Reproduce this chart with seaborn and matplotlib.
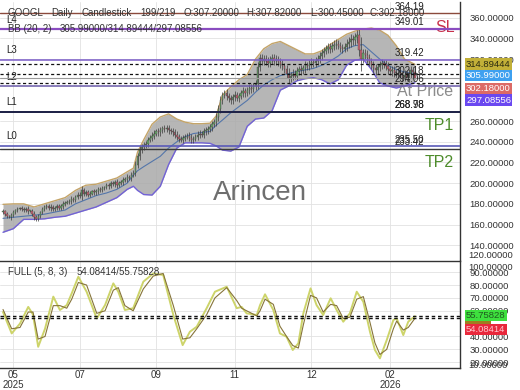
import numpy as np
import pandas as pd
import matplotlib
matplotlib.use("Agg")
import matplotlib.pyplot as plt
import matplotlib.transforms as mtransforms
import seaborn as sns

# ---------------- data ----------------
closes = [
    173, 170, 168, 167, 169, 172, 174, 175, 176, 175,
    174, 175, 173, 173, 170, 167, 165, 168, 172, 175,
    177, 178, 176, 177, 175, 176, 178, 176, 178, 180,
    181, 182, 183, 185, 184, 187, 189, 188, 193, 190,
    191, 189, 190, 192, 191, 192, 194, 193, 195, 196,
    198, 197, 200, 199, 201, 198, 200, 201, 203, 204,
    206, 205, 208, 210, 218, 226, 232, 235, 237, 238,
    242, 244, 246, 248, 250, 249, 251, 253, 252, 253,
    251, 250, 249, 247, 245, 243, 242, 244, 245, 246,
    244, 242, 243, 245, 247, 248, 247, 250, 251, 252,
    254, 257, 259, 264, 272, 280, 285, 287, 284, 282,
    280, 283, 285, 282, 284, 287, 289, 287, 290, 292,
    291, 294, 296, 312, 321, 318, 320, 318, 316, 319,
    321, 318, 319.6, 317, 315, 313, 310, 306, 302, 303.6,
    306, 304, 308, 310, 309, 311, 314, 313, 315, 317,
    316, 318, 320, 323, 326, 328, 330, 332, 330, 333,
    334, 335, 333, 331, 330, 332, 335, 337, 339, 338,
    341, 343, 329, 320, 326, 324, 321, 317, 314, 311,
    309, 312, 314, 316, 315, 313, 310, 308, 309, 307,
    305.5, 307, 304, 303, 305, 302, 306, 309, 307.2, 302.18,
]
first_open = 172
wicks = [
    2, 1.5, 2, 1, 2.5, 2, 1.5, 2, 1, 2, 1.5, 2, 2.5, 1, 2, 3, 2, 2, 1.5, 2,
    2, 1.5, 2, 2.5, 1.5, 2, 2, 1.5, 2, 2.5, 2, 1.5, 2, 3, 2, 2, 2.5, 2, 4, 2,
    2, 2.5, 2, 1.5, 2, 2, 2.5, 2, 2, 1.5, 2, 2.5, 2, 2, 2.5, 3, 2, 2, 2.5, 2,
    2.5, 2, 3, 2.5, 3, 3, 3.5, 3, 2.5, 3, 3, 2.5, 3, 3, 2.5, 3, 3, 2.5, 3, 3,
    3, 2.5, 3, 3, 3.5, 3, 2.5, 3, 3, 2.5, 3, 3.5, 3, 2.5, 3, 3, 2.5, 3, 3, 3,
    3, 3.5, 3, 4, 4, 4, 3.5, 3, 4, 3.5, 3, 3.5, 4, 3, 3.5, 3, 4, 3.5, 3, 3.5,
    3.5, 3, 4, 5, 4, 3.5, 4, 3.5, 4, 3.5, 4, 3.5, 4, 3.5, 4, 4, 3.5, 4, 5, 4,
    4, 3.5, 4, 3.5, 4, 3.5, 4, 3.5, 4, 4, 3.5, 4, 4, 3.5, 4, 4, 3.5, 4, 4, 3.5,
    4, 4, 3.5, 4, 4, 3.5, 4, 4, 5, 4, 4, 5, 6, 12, 4, 4, 5, 4, 4, 4,
    4, 3.5, 4, 4, 3.5, 4, 4, 3.5, 4, 4, 3.5, 4, 3.5, 4, 4, 3.5, 4, 4, 3.5, 1.7,
]

bb_idx = [0, 5, 10, 15, 20, 25, 30, 35, 40, 45, 50, 55, 60, 63, 65, 68, 72, 76,
          80, 84, 88, 92, 96, 100, 103, 106, 110, 114, 118, 122, 126, 130, 134,
          138, 142, 146, 150, 154, 158, 162, 166, 170, 174, 178, 182, 186, 190,
          194, 199]
bb_upper = [179.5, 180, 180, 177, 180, 183, 186, 193, 198, 199, 202, 205, 211,
            214.5, 230, 242, 257, 264, 267, 262, 259, 257.5, 257.5, 258, 265,
            285, 293, 300, 305, 320, 330, 335, 337, 333, 329, 325, 325, 328,
            334, 339, 344, 347, 349, 350, 348, 343, 333, 320, 314.89444]
bb_middle = [166, 167, 168, 169, 170, 172, 174, 180, 184, 188, 190.5, 194, 200,
             208, 212, 216, 221, 226, 234, 240, 245, 248, 249, 250, 256, 261,
             268, 274, 280, 288, 295, 300, 304, 306, 308, 309.5, 311, 314, 318,
             323, 330, 333, 334, 327, 320, 314, 310, 307.5, 305.99]
bb_lower = [152.5, 156, 165, 165, 165.5, 167, 168, 171, 174, 177, 181.5, 186,
            194, 197, 193, 189, 188.5, 197, 218, 234, 239, 239, 239, 238.5, 236,
            232, 231, 235, 255, 262, 263, 270, 290, 294, 299, 301, 302, 300, 296,
            300, 314, 319, 320, 310, 297, 294, 292, 294, 297.08556]

stoch_idx = [0, 4.2, 8.2, 12.2, 14.5, 17, 20.3, 24.3, 27.5, 30.8, 33.2, 36.4,
             40.4, 45.3, 49.3, 53.3, 55.7, 58.9, 62.9, 67.8, 72.6, 77.4, 82.3,
             86.8, 90.3, 93.6, 98.4, 102.4, 108.1, 112.9, 115.3, 117.7, 122.6,
             124.2, 126.6, 130.6, 133.8, 137, 140, 142.7, 145.1, 148.6, 151.5,
             154.7, 158.3, 161.2, 164.4, 167.6, 170.9, 174.1, 177.3, 179.7,
             182.1, 185.4, 188.6, 190.2, 193.4, 195.8, 199]
stoch_fast = [59, 42.4, 50, 63, 57, 32, 46, 71, 60.6, 64.4, 73.5, 86.5, 74.8,
              54, 64.4, 81.3, 74.8, 60.6, 62, 82.6, 89, 87.8, 56.7, 33.3, 43.7,
              47.6, 62, 74.8, 78.7, 62, 63, 58, 56.7, 64.4, 72.8, 60.6, 42.4,
              39.8, 29.5, 34.7, 58, 77.4, 64.4, 56.7, 69.7, 60.6, 51.5, 58, 74.8,
              67, 43.7, 29.5, 23, 37.2, 52.8, 54.1, 41.1, 51.5, 55.75828]
stoch_slow = [61, 46, 47, 59, 59, 38, 40, 64, 64, 62, 69, 82, 80, 58, 60, 76,
              78, 64, 60, 77, 87, 89, 64, 38, 39, 46, 57, 70, 78, 68, 62, 60, 56,
              60, 69, 65, 48, 40, 33, 31, 49, 72, 70, 59, 65, 64, 54, 55, 69, 71,
              51, 35, 26, 30, 46, 52, 45, 47, 54.08414]

month_pos = [5, 37, 74, 112, 149, 187]
month_labels = ["05\n2025", "07", "09", "11", "12", "02\n2026"]

price_ticks = [140, 160, 180, 200, 220, 240, 260, 320, 340, 360]
stoch_ticks = [20, 30, 40, 60, 70, 80, 90]

level_values = [364.19, 349.01, 319.42, 302.18, 294.06, 268.98, 268.78, 235.50, 233.42]
level_colors = ["#8b4a3c", "#8a4cc0", "#7a5cc8", "#9a9a9a", "#6a5aa8", "#1e2248",
                "#1e2248", "#5a5ab8", "#3a3a3a"]
level_widths = [1.0, 1.6, 1.1, 0.8, 1.1, 1.3, 1.3, 1.2, 1.0]
level_names = ["L4", "L3", "L2", "L1", "L0"]
level_name_prices = [357.4, 328.4, 302.4, 278.8, 245.2]

# ---------------- style ----------------
sns.set_theme(style="white")
plt.rcParams["font.family"] = ["Liberation Sans", "DejaVu Sans"]

W, H = 520, 390
fig = plt.figure(figsize=(W / 100, H / 100), dpi=100)
fig.patch.set_facecolor("white")

ax = fig.add_axes([0, 1 - 260 / H, 460 / W, 258 / H])
ax2 = fig.add_axes([0, 1 - 368 / H, 460 / W, 107 / H])
for a in (ax, ax2):
    a.set_facecolor("white")
    a.set_xlim(-1.45, 220.8)
    a.set_xticks(month_pos)
    a.grid(True, color="#e2e2e2", lw=0.6)
    a.yaxis.tick_right()
    a.tick_params(axis="y", length=0, pad=7, labelsize=6.8, labelcolor="#333333")
    a.spines["left"].set_visible(False)
    for s in ("right", "top", "bottom"):
        a.spines[s].set_color("#333333")
        a.spines[s].set_linewidth(1.0)

ax.spines["top"].set_visible(False)
ax.spines["bottom"].set_visible(False)
ax.set_ylim(125.7, 375.2)
ax.set_yticks(price_ticks)
ax.set_yticklabels([f"{v:.5f}" for v in price_ticks])
ax.tick_params(axis="x", length=0, labelbottom=False)

# Bollinger band
ax.fill_between(bb_idx, bb_lower, bb_upper, color="#a9a9a9", alpha=0.85, lw=0, zorder=1)
sns.lineplot(x=bb_idx, y=bb_upper, ax=ax, color="#c4a468", lw=1.0, zorder=2)
sns.lineplot(x=bb_idx, y=bb_lower, ax=ax, color="#7262d6", lw=1.0, zorder=2)
sns.lineplot(x=bb_idx, y=bb_middle, ax=ax, color="#5476aa", lw=0.8, zorder=2)

# candles
idx = np.arange(len(closes))
c = np.array(closes, dtype=float)
o = np.array([first_open] + closes[:-1], dtype=float)
w = np.array(wicks, dtype=float)
hi = np.maximum(o, c) + w
lo = np.minimum(o, c) - w
up = c >= o
ax.vlines(idx, lo, hi, color="#3a3a3a", lw=0.5, zorder=3)
body = np.where(np.abs(c - o) < 0.6, 0.6, c - o)
ax.bar(idx, body, bottom=o, width=0.65,
       color=np.where(up, "#6aa86a", "#c86474"), edgecolor="#3a3a3a", lw=0.25, zorder=4)

# level lines
for v, col, lw in zip(level_values, level_colors, level_widths):
    ax.axhline(v, color=col, lw=lw, zorder=5)
for v in (bb_upper[-1], bb_middle[-1], bb_lower[-1]):
    ax.axhline(v, color="#111111", lw=0.9, ls=(0, (2.5, 2)), zorder=5)

trans = mtransforms.blended_transform_factory(ax.transAxes, ax.transData)
for v in level_values:
    ax.annotate(f"{v:.2f}", xy=(395 / 460, v), xycoords=trans, xytext=(0, 1.2),
                textcoords="offset points", ha="left", va="bottom", fontsize=7,
                color="#222222", zorder=6)
for name, p in zip(level_names, level_name_prices):
    ax.text(6 / 460, p, name, transform=trans, ha="left", va="center", fontsize=7,
            color="#222222")

ax.text(445 / 460, 350.4, "SL", transform=trans, ha="center", va="center",
        fontsize=11.5, color="#c8324b")
ax.text(439 / 460, 255.6, "TP1", transform=trans, ha="center", va="center",
        fontsize=11.5, color="#4e8c2c")
ax.text(439 / 460, 220.3, "TP2", transform=trans, ha="center", va="center",
        fontsize=11.5, color="#4e8c2c")
ax.text(425 / 460, 289.0, "At Price", transform=trans, ha="center", va="center",
        fontsize=11.5, color="#8c8c8c")
ax.text(0.565, 0.26, "Arincen", transform=ax.transAxes, ha="center", va="center",
        fontsize=20, color="#6e6e6e")

# right value boxes (main)
box_specs = [
    (f"{bb_upper[-1]:.5f}", 315.2, "#c2b038", "#2a2a10"),
    (f"{bb_middle[-1]:.5f}", 303.9, "#3ea0f0", "white"),
    (f"{closes[-1]:.5f}", 291.7, "#dc6a66", "white"),
    (f"{bb_lower[-1]:.5f}", 280.4, "#6a48f0", "white"),
]
for txt, yv, fc, tc in box_specs:
    ax.text(1 + 6 / 460, yv, txt, transform=trans, ha="left", va="center",
            fontsize=6.8, color=tc, zorder=10, clip_on=False,
            bbox=dict(boxstyle="square,pad=0.12", fc=fc, ec="none"))
ax.text(1 + 8 / 460, 130.3, "120.00000", transform=trans, ha="left", va="center",
        fontsize=6.8, color="#333333", clip_on=False)

# header texts
title_parts = ["GOOGL", "Daily", "Candlestick", "199/219", "O:307.20000",
               "H:307.82000", "L:300.45000", "C:302.18000"]
title_x = [8, 51.7, 81.7, 140, 183.3, 246.7, 310, 370]
for t, xp in zip(title_parts, title_x):
    fig.text(xp / W, 1 - 12.7 / H, t, ha="left", va="center", fontsize=7, color="#333333")
fig.text(8 / W, 1 - 29.3 / H, "BB (20, 2)", ha="left", va="center", fontsize=7, color="#333333")
fig.text(60 / W, 1 - 29.3 / H,
         f"{bb_middle[-1]:.5f}/{bb_upper[-1]:.5f}/{bb_lower[-1]:.5f}",
         ha="left", va="center", fontsize=7, color="#333333")

# ---------------- stochastic panel ----------------
ax2.set_ylim(15.5, 98.7)
ax2.set_yticks(stoch_ticks)
ax2.set_yticklabels([f"{v:.5f}" for v in stoch_ticks])
ax2.set_xticklabels(month_labels)
ax2.tick_params(axis="x", length=0, pad=1.5, labelsize=7, labelcolor="#333333")
for lab in ax2.get_xticklabels():
    lab.set_linespacing(0.95)

sns.lineplot(x=stoch_idx, y=stoch_fast, ax=ax2, color="#cdd46a", lw=1.4, zorder=3)
sns.lineplot(x=stoch_idx, y=stoch_slow, ax=ax2, color="#86743a", lw=0.8, zorder=4)
for v in (stoch_fast[-1], stoch_slow[-1]):
    ax2.axhline(v, color="#111111", lw=1.0, ls=(0, (2.5, 2)), zorder=5)

trans2 = mtransforms.blended_transform_factory(ax2.transAxes, ax2.transData)
ax2.text(1 + 8 / 460, 94.0, "100.00000", transform=trans2, ha="left", va="center",
         fontsize=6.8, color="#333333", clip_on=False)
ax2.text(1 + 8 / 460, 17.3, "10.00000", transform=trans2, ha="left", va="center",
         fontsize=6.8, color="#333333", clip_on=False)
ax2.text(1 + 6 / 460, 51.0, "         ", transform=trans2, ha="left", va="center",
         fontsize=6.8, zorder=9, clip_on=False,
         bbox=dict(boxstyle="square,pad=0.12", fc="#a07c20", ec="none"))
ax2.text(1 + 6 / 460, 56.1, f"{stoch_fast[-1]:.5f}", transform=trans2, ha="left",
         va="center", fontsize=6.8, color="#1f5a1f", zorder=10, clip_on=False,
         bbox=dict(boxstyle="square,pad=0.12", fc="#3ee03e", ec="none"))
ax2.text(1 + 6 / 460, 45.3, f"{stoch_slow[-1]:.5f}", transform=trans2, ha="left",
         va="center", fontsize=6.8, color="#ffc8d0", zorder=10, clip_on=False,
         bbox=dict(boxstyle="square,pad=0.12", fc="#e8283c", ec="none"))

fig.text(8 / W, 1 - 272.3 / H, "FULL (5, 8, 3)", ha="left", va="center", fontsize=7,
         color="#333333")
fig.text(76.7 / W, 1 - 272.3 / H, f"{stoch_slow[-1]:.5f}/{stoch_fast[-1]:.5f}",
         ha="left", va="center", fontsize=7, color="#333333")

fig.savefig("out.png", dpi=100, facecolor="white")
